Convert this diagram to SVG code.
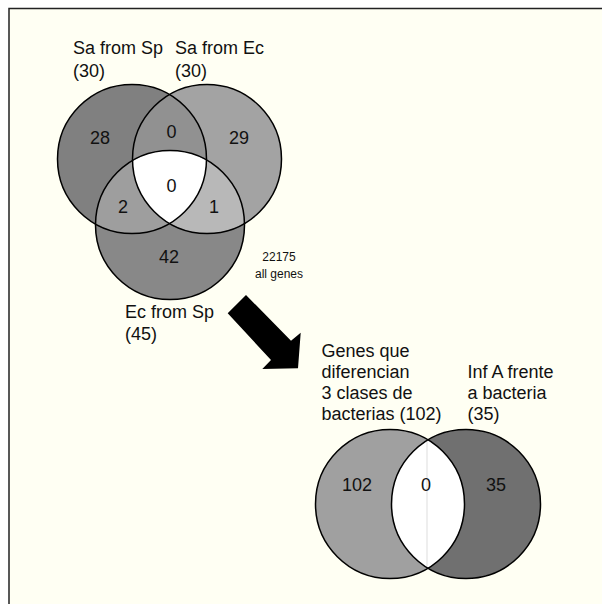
<svg xmlns="http://www.w3.org/2000/svg" width="602" height="604" viewBox="0 0 602 604">
  <style>
    .lbl { font-family: "Liberation Sans", Arial, Helvetica, sans-serif; font-size: 18px; fill: #111; }
    .num { font-family: "Liberation Sans", Arial, Helvetica, sans-serif; font-size: 18px; fill: #111; text-anchor: middle; }
    .small { font-family: "Liberation Sans", Arial, Helvetica, sans-serif; font-size: 12px; fill: #111; text-anchor: middle; }
    .outline { fill: none; stroke: #000; stroke-width: 1.5; }
  </style>
  <defs>
    <clipPath id="clipA"><circle cx="132" cy="159" r="74.5"/></clipPath>
    <clipPath id="clipB"><circle cx="207" cy="159" r="74.5"/></clipPath>
    <clipPath id="clipL"><circle cx="390" cy="504" r="74.5"/></clipPath>
  </defs>

  <rect x="0" y="0" width="602" height="604" fill="#ffffff"/>
  <rect x="9" y="8.5" width="600" height="600" fill="#fffff3" stroke="#222" stroke-width="1.5"/>

  <!-- Top Venn diagram -->
  <g id="venn-top">
    <g id="set-sa-from-sp">
      <circle cx="132" cy="159" r="74.5" fill="#808080"/>
    </g>
    <g id="set-sa-from-ec">
      <circle cx="207" cy="159" r="74.5" fill="#a3a3a3"/>
    </g>
    <g id="set-ec-from-sp">
      <circle cx="170" cy="225" r="74.5" fill="#888888"/>
    </g>
    <g id="region-ab">
      <circle cx="207" cy="159" r="74.5" fill="#919191" clip-path="url(#clipA)"/>
    </g>
    <g id="region-ac">
      <circle cx="170" cy="225" r="74.5" fill="#9e9e9e" clip-path="url(#clipA)"/>
    </g>
    <g id="region-bc">
      <circle cx="170" cy="225" r="74.5" fill="#b8b8b8" clip-path="url(#clipB)"/>
    </g>
    <g id="region-abc" clip-path="url(#clipB)">
      <circle cx="170" cy="225" r="74.5" fill="#ffffff" clip-path="url(#clipA)"/>
    </g>
    <g id="outlines-top">
      <circle class="outline" cx="132" cy="159" r="74.5"/>
      <circle class="outline" cx="207" cy="159" r="74.5"/>
      <circle class="outline" cx="170" cy="225" r="74.5"/>
    </g>
    <text class="lbl" x="73" y="54">Sa from Sp</text>
    <text class="lbl" x="73" y="76.5">(30)</text>
    <text class="lbl" x="175" y="54">Sa from Ec</text>
    <text class="lbl" x="175" y="76.5">(30)</text>
    <text class="lbl" x="125" y="317.5">Ec from Sp</text>
    <text class="lbl" x="125" y="339.5">(45)</text>
    <text class="num" x="100" y="144">28</text>
    <text class="num" x="171.5" y="138">0</text>
    <text class="num" x="239" y="144">29</text>
    <text class="num" x="171.5" y="192">0</text>
    <text class="num" x="123" y="213">2</text>
    <text class="num" x="214" y="213">1</text>
    <text class="num" x="169" y="263">42</text>
    <text class="small" x="279" y="261">22175</text>
    <text class="small" x="279" y="278">all genes</text>
  </g>

  <!-- Connector arrow -->
  <g id="connectors">
    <polygon points="227.7,313.3 246,295 291,340.7 300.7,332.7 298,368.3 262.3,369 271,360" fill="#000"/>
  </g>

  <!-- Bottom Venn diagram -->
  <g id="venn-bottom">
    <g id="set-genes-3-clases">
      <circle cx="390" cy="504" r="74.5" fill="#a0a0a0"/>
    </g>
    <g id="set-inf-a">
      <circle cx="466" cy="504" r="74.5" fill="#707070"/>
    </g>
    <g id="region-lr">
      <circle cx="466" cy="504" r="74.5" fill="#ffffff" clip-path="url(#clipL)"/>
      <line x1="427" y1="440" x2="427" y2="568" stroke="#dddddd" stroke-width="1"/>
    </g>
    <g id="outlines-bottom">
      <circle class="outline" cx="390" cy="504" r="74.5"/>
      <circle class="outline" cx="466" cy="504" r="74.5"/>
    </g>
    <text class="lbl" x="321.5" y="357">Genes que</text>
    <text class="lbl" x="321.5" y="378">diferencian</text>
    <text class="lbl" x="321.5" y="399">3 clases de</text>
    <text class="lbl" x="321.5" y="420">bacterias (102)</text>
    <text class="lbl" x="467.5" y="378">Inf A frente</text>
    <text class="lbl" x="467.5" y="399">a bacteria</text>
    <text class="lbl" x="467.5" y="420">(35)</text>
    <text class="num" x="357" y="491">102</text>
    <text class="num" x="426" y="491">0</text>
    <text class="num" x="496" y="491">35</text>
  </g>
</svg>
